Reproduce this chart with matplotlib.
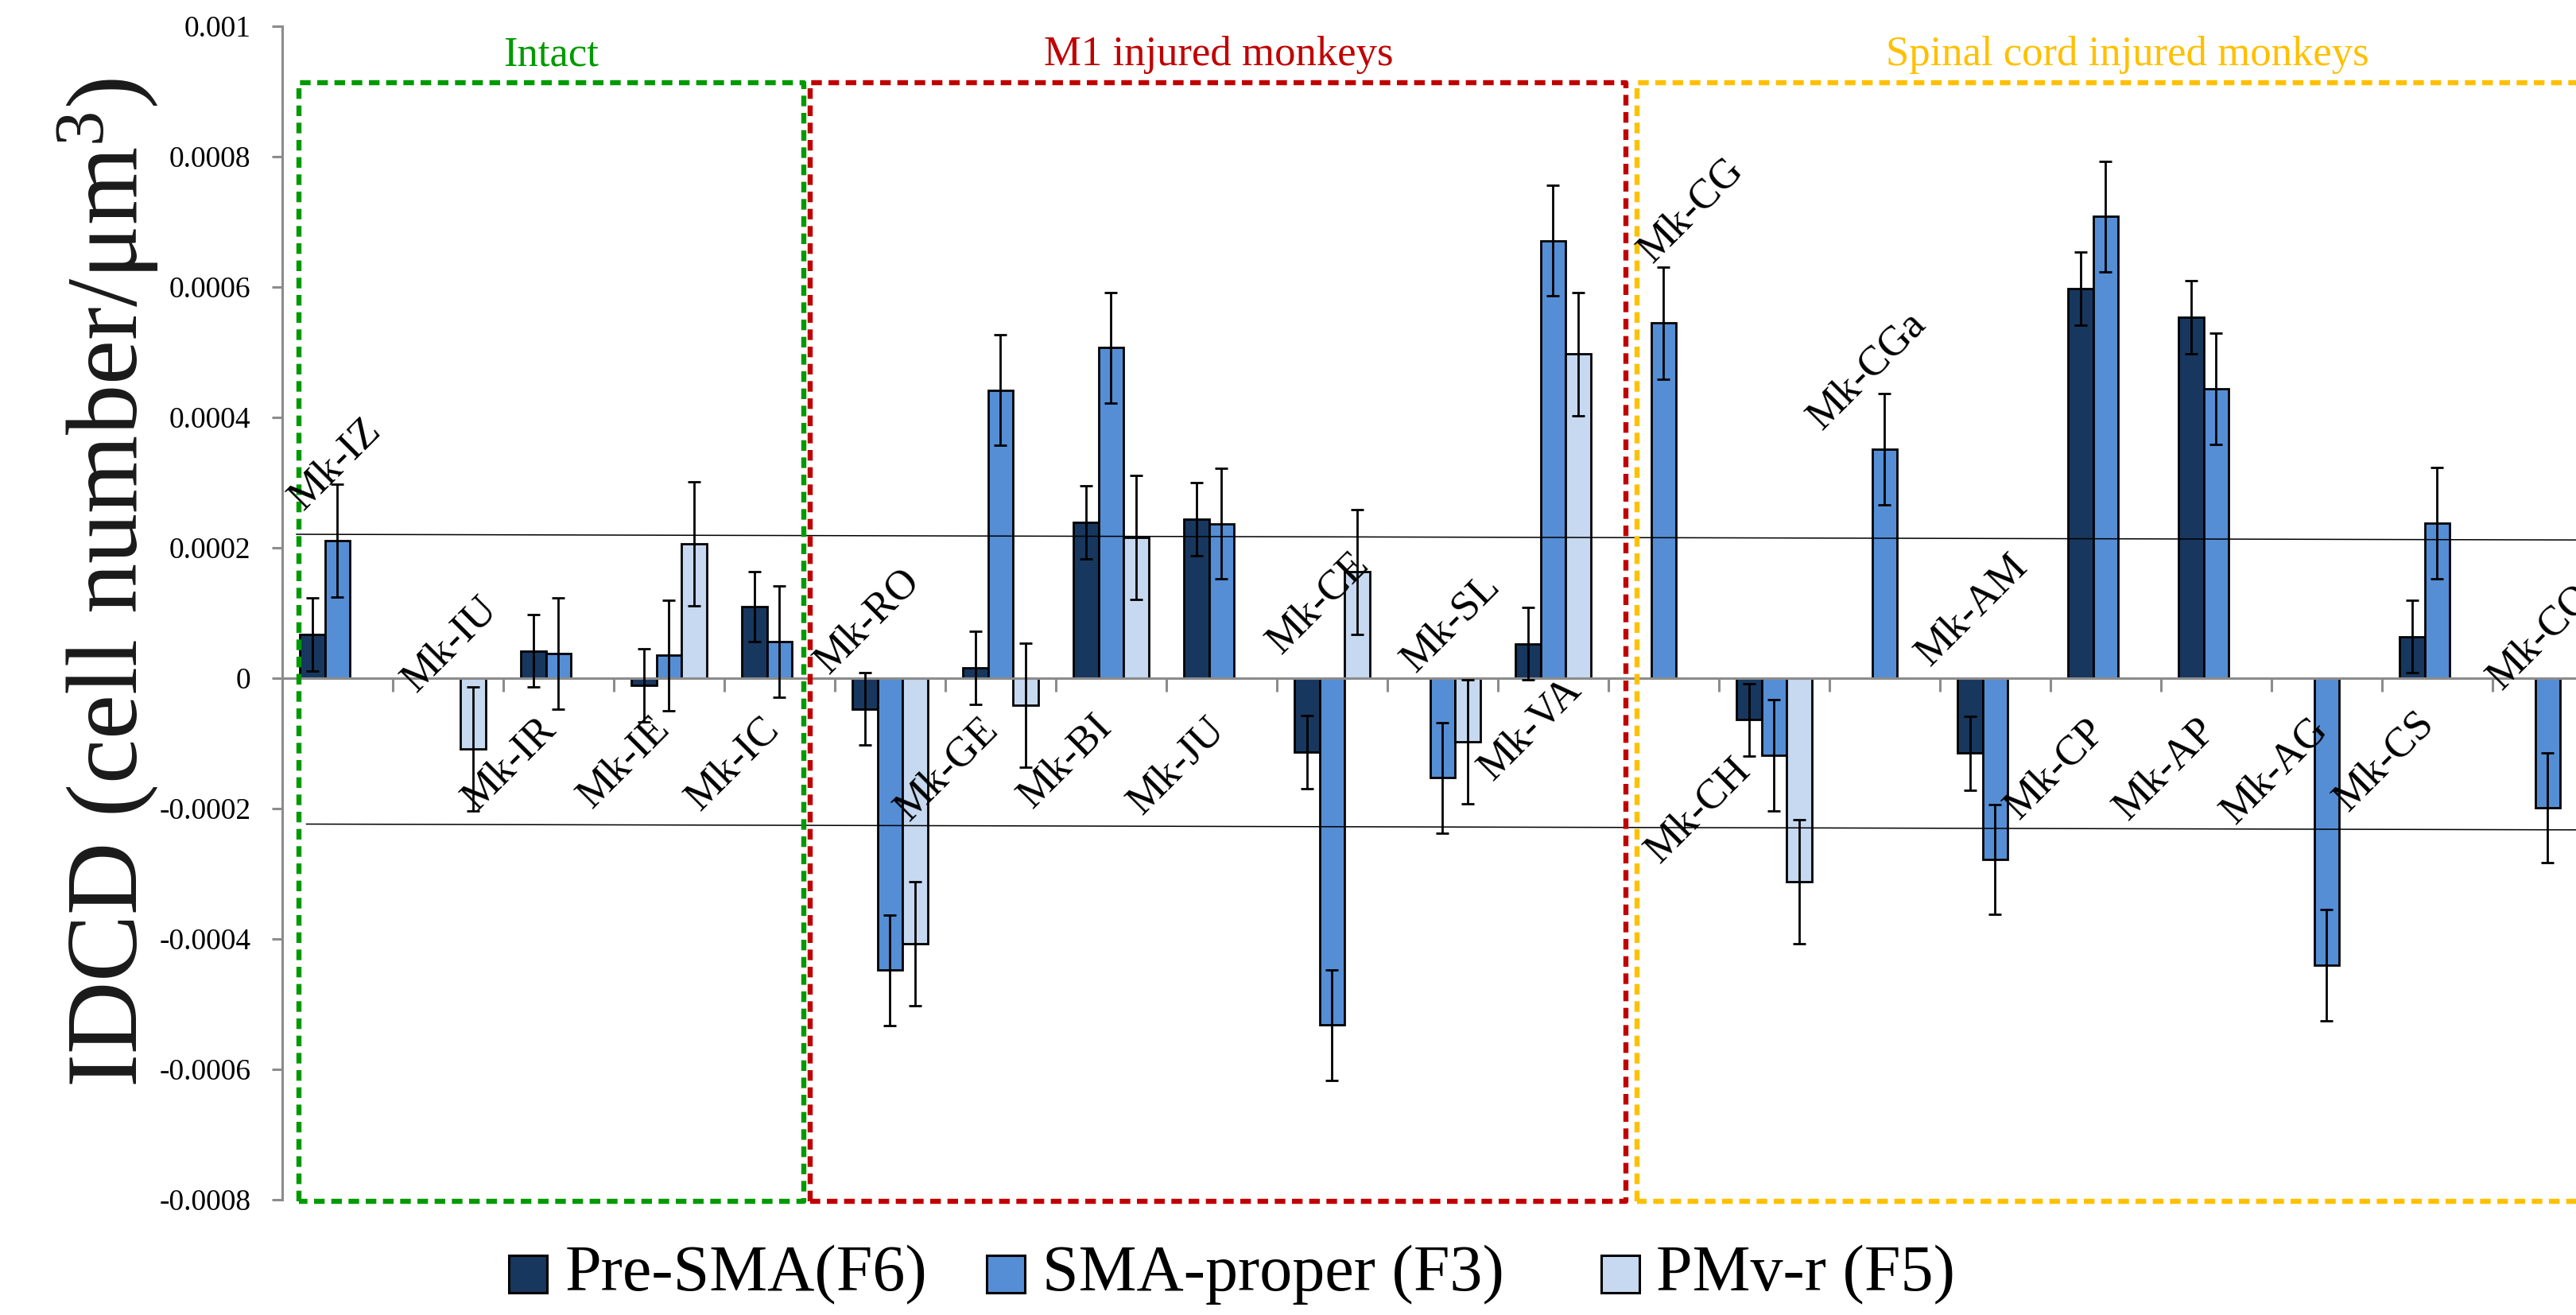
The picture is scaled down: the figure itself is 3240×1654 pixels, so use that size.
import numpy as np
import matplotlib
matplotlib.use("Agg")
import matplotlib.pyplot as plt
from matplotlib.patches import Rectangle
from matplotlib.ticker import FixedLocator, FuncFormatter, NullFormatter

plt.rcParams['font.family'] = 'serif'
plt.rcParams['font.serif'] = ['Liberation Serif', 'DejaVu Serif']
plt.rcParams['mathtext.fontset'] = 'custom'
plt.rcParams['mathtext.rm'] = 'Liberation Serif'
plt.rcParams['lines.scale_dashes'] = False

nan = np.nan

# animals, in the order they appear along the x axis
monkeys = ['Mk-IZ', 'Mk-IU', 'Mk-IR', 'Mk-IE', 'Mk-IC',
           'Mk-RO', 'Mk-GE', 'Mk-BI', 'Mk-JU', 'Mk-CE', 'Mk-SL', 'Mk-VA',
           'Mk-CG', 'Mk-CH', 'Mk-CGa', 'Mk-AM', 'Mk-CP', 'Mk-AP', 'Mk-AG',
           'Mk-CS', 'Mk-CO']

# IDCD per area (cell number / um^3), nan = not measured
pre_sma = [6.7e-5, nan, 4.2e-5, -1.1e-5, 1.1e-4,
           -4.7e-5, 1.6e-5, 2.39e-4, 2.44e-4, -1.13e-4, nan, 5.3e-5,
           nan, -6.4e-5, nan, -1.15e-4, 5.98e-4, 5.54e-4, nan,
           6.4e-5, nan]
sma_proper = [2.11e-4, nan, 3.8e-5, 3.5e-5, 5.6e-5,
              -4.48e-4, 4.42e-4, 5.07e-4, 2.37e-4, -5.32e-4, -1.53e-4, 6.71e-4,
              5.45e-4, -1.185e-4, 3.51e-4, -2.78e-4, 7.08e-4, 4.44e-4, -4.40e-4,
              2.38e-4, -1.99e-4]
pmv_r = [nan, -1.09e-4, nan, 2.06e-4, nan,
         -4.07e-4, -4.1e-5, 2.16e-4, nan, 1.63e-4, -9.8e-5, 4.97e-4,
         nan, -3.12e-4, nan, nan, nan, nan, nan,
         nan, nan]

pre_sma_err = [5.6e-5, nan, 5.6e-5, 5.6e-5, 5.4e-5,
               5.6e-5, 5.6e-5, 5.6e-5, 5.6e-5, 5.6e-5, nan, 5.6e-5,
               nan, 5.6e-5, nan, 5.7e-5, 5.6e-5, 5.6e-5, nan,
               5.5e-5, nan]
sma_proper_err = [8.6e-5, nan, 8.5e-5, 8.5e-5, 8.5e-5,
                  8.5e-5, 8.5e-5, 8.5e-5, 8.5e-5, 8.5e-5, 8.5e-5, 8.5e-5,
                  8.6e-5, 8.5e-5, 8.5e-5, 8.4e-5, 8.5e-5, 8.5e-5, 8.5e-5,
                  8.5e-5, 8.4e-5]
pmv_r_err = [nan, 9.5e-5, nan, 9.5e-5, nan,
             9.5e-5, 9.5e-5, 9.5e-5, nan, 9.6e-5, 9.5e-5, 9.5e-5,
             nan, 9.5e-5, nan, nan, nan, nan, nan,
             nan, nan]

series_names = ['Pre-SMA(F6)', 'SMA-proper (F3)', 'PMv-r (F5)']
series_colors = ['#17375E', '#558ED5', '#C6D9F1']

# where each animal name sits (x in category units, y in data units)
label_x = [-0.31, 0.71, 1.26, 2.30, 3.28, 4.44, 5.17, 6.29, 7.28, 8.54,
           9.75, 10.45, 11.90, 11.96, 13.43, 14.41, 15.21, 16.20, 17.17,
           18.19, 19.58]
label_y = [2.56e-4, -2.3e-5, -2.05e-4, -2.01e-4, -2.05e-4, 5e-6, -2.2e-4,
           -2.01e-4, -2.1e-4, 3.6e-5, 8e-6, -1.58e-4, 6.36e-4, -2.85e-4,
           3.8e-4, 1.7e-5, -2.18e-4, -2.2e-4, -2.25e-4, -2.06e-4, -1.9e-5]

# experimental groups: title, colour, x span of the dashed frame
groups = [('Intact', '#009A00', -0.35, 4.216),
          ('M1 injured monkeys', '#C00000', 4.277, 11.658),
          ('Spinal cord injured monkeys', '#FFC000', 11.759, 21.5)]
group_title_x = [1.93, 7.97, 16.2]

# +/- threshold lines (slightly tilted as in the original figure)
upper_line = ([-0.37, 20.26], [2.207e-4, 2.12e-4])
lower_line = ([-0.28, 20.26], [-2.238e-4, -2.327e-4])

W, H = 3241, 1654
fig = plt.figure(figsize=(W / 100, H / 100), dpi=100)
ax = fig.add_axes([355 / W, 1 - 1509 / H, 2919 / W, (1509 - 33) / H])

x = np.arange(len(monkeys))
bar_w = 0.227
values = [pre_sma, sma_proper, pmv_r]
errors = [pre_sma_err, sma_proper_err, pmv_r_err]
for k in range(3):
    v = np.array(values[k])
    e = np.array(errors[k])
    ok = ~np.isnan(v)
    xpos = x[ok] + (k - 1) * bar_w
    ax.bar(xpos, v[ok], width=bar_w, color=series_colors[k],
           edgecolor='black', linewidth=2, zorder=2)
    ax.errorbar(xpos, v[ok], yerr=e[ok], fmt='none', ecolor='black',
                elinewidth=2, capsize=5.5, capthick=2, zorder=3)

ax.set_xlim(-0.5, 20.5)
ax.set_ylim(-0.0008, 0.001)

gray = '#8C8C8C'
for side in ['top', 'right']:
    ax.spines[side].set_visible(False)
ax.spines['left'].set_color(gray)
ax.spines['left'].set_linewidth(2.2)
ax.spines['bottom'].set_color(gray)
ax.spines['bottom'].set_linewidth(2.2)
ax.spines['bottom'].set_position(('data', 0))

ax.yaxis.set_major_locator(FixedLocator(np.arange(-8, 11, 2) * 1e-4))
ax.yaxis.set_major_formatter(FuncFormatter(lambda v, p: '%g' % round(v, 6)))
ax.tick_params(axis='y', direction='out', length=9.5, width=2.2, color=gray,
               labelsize=27, pad=19)
ax.xaxis.set_major_locator(FixedLocator(np.arange(-0.5, 21, 1)))
ax.xaxis.set_major_formatter(NullFormatter())
ax.tick_params(axis='x', direction='out', length=12, width=2.2, color=gray)

for name, lx, ly in zip(monkeys, label_x, label_y):
    ax.text(lx, ly, name, rotation=45, rotation_mode='anchor', ha='left',
            va='baseline', fontsize=38, zorder=5, clip_on=False)

ax.plot(*upper_line, color='black', lw=1.1, zorder=4, clip_on=False)
ax.plot(*lower_line, color='black', lw=1.1, zorder=4, clip_on=False)

box_top, box_bottom = 9.14e-4, -8.02e-4
for (title, col, x0, x1), tx in zip(groups, group_title_x):
    ax.plot([x0, x0, x1, x1, x0], [box_bottom, box_top, box_top, box_bottom, box_bottom],
            color=col, lw=4.6, dashes=(9.6, 6), zorder=4, clip_on=False)
    ax.text(tx, 9.4e-4, title, color=col, fontsize=38, ha='center',
            va='baseline', clip_on=False)

fig.text(172 / W, 1 - 733 / H, r'IDCD (cell number/μm$\mathregular{^{3}}$)',
         rotation=90, rotation_mode='anchor', ha='center', va='baseline',
         fontsize=91, color='#1a1a1a')

# legend drawn by hand below the plot
legend_box_x = [640, 1241, 2014]
legend_text_x = [711, 1311, 2083]
for k in range(3):
    fig.patches.append(Rectangle((legend_box_x[k] / W, 1 - 1626 / H), 48 / W, 47 / H,
                                 transform=fig.transFigure, facecolor=series_colors[k],
                                 edgecolor='black', linewidth=2.2))
    fig.text(legend_text_x[k] / W, 1 - 1623 / H, series_names[k], fontsize=59,
             ha='left', va='baseline')

fig.savefig('out.png', dpi=100)
